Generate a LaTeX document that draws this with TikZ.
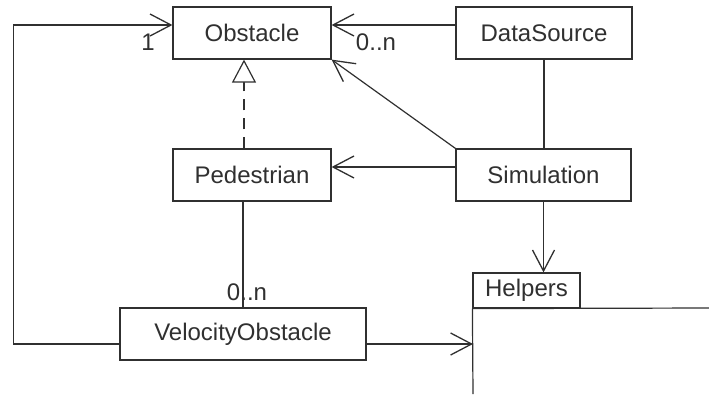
\documentclass[tikz,border=0pt]{standalone}
\usepackage{fontspec}
\setmainfont{Liberation Sans}
\usetikzlibrary{arrows.meta}
\definecolor{ink}{HTML}{303030}
\tikzset{
  cls/.style={draw=ink, line width=1.2pt, fill=white, minimum height=52pt, inner sep=0pt, text=ink, font=\fontsize{24}{28}\selectfont},
  lbl/.style={text=ink, inner sep=0pt, font=\fontsize{24}{28}\selectfont},
  conn/.style={draw=ink, line width=1.2pt},
  arr/.style={conn, -{Straight Barb[length=21pt,width=22pt,line width=1.3pt]}},
  real/.style={conn, dash pattern=on 11pt off 8pt, -{Triangle[open,length=23pt,width=24pt,line width=1.2pt,fill=white]}}
}
\begin{document}
\begin{tikzpicture}[x=1pt,y=-1pt]
\useasboundingbox (0,0) rectangle (709,394);
\fill[white] (0,0) rectangle (709,394);
\node[cls, minimum width=158pt] (obs) at (252,33) {Obstacle};
\node[cls, minimum width=176pt] (ds) at (544,33) {DataSource};
\node[cls, minimum width=158pt] (ped) at (252,175) {Pedestrian};
\node[cls, minimum width=175pt] (sim) at (543.5,175) {Simulation};
\node[cls, minimum width=246pt] (vo) at (243,334) {VelocityObstacle};
\node[cls, minimum width=107pt, minimum height=35pt] (help) at (526.5,290.5) {Helpers};
\draw[conn] (help.south west) -- (709,308);
\draw[conn] (help.south west) -- (473,394);
\coordinate (hb) at (473,344);
% connectors
\draw[arr] ([yshift=8pt]ds.west) -- ([yshift=8pt]obs.east);
\draw[arr] (sim.north west) -- (obs.south east);
\draw[arr] ([yshift=8pt]sim.west) -- ([yshift=8pt]ped.east);
\draw[conn] (ds.south) -- (ds.south |- sim.north);
\draw[arr] (sim.south) -- (sim.south |- help.north);
\draw[real] ([xshift=-8pt]ped.north) -- ([xshift=-8pt]obs.south);
\draw[conn] (ped.south -| vo.north) -- (vo.north);
\draw[arr] ([yshift=-10pt]vo.west) -| ([xshift=-159pt,yshift=8pt]obs.west) -- ([yshift=8pt]obs.west);
\draw[arr] ([yshift=-10pt]vo.east) -- (hb);
% labels
\node[lbl] (m1) at (148,42) {1};
\node[lbl] (m2) at (376,42) {0..n};
\node[lbl] (m3) at (247,292) {0..n};
\end{tikzpicture}
\end{document}
